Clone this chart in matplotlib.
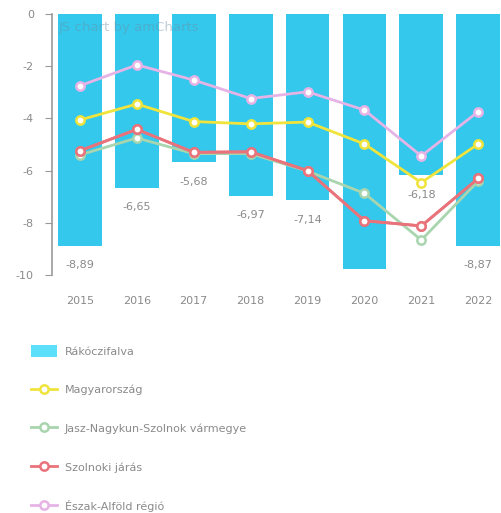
import matplotlib
matplotlib.use("Agg")
import matplotlib.pyplot as plt
from matplotlib.lines import Line2D
from matplotlib.patches import Patch

years = ["2015", "2016", "2017", "2018", "2019", "2020", "2021", "2022"]
rakoczifalva = [-8.89, -6.65, -5.68, -6.97, -7.14, -9.77, -6.18, -8.87]
bar_labels = ["-8,89", "-6,65", "-5,68", "-6,97", "-7,14", None, "-6,18", "-8,87"]
magyarorszag = [-4.06, -3.45, -4.12, -4.21, -4.14, -4.98, -6.46, -4.98]
jnsz = [-5.40, -4.75, -5.35, -5.35, -6.02, -6.87, -8.66, -6.40]
szolnoki = [-5.24, -4.42, -5.30, -5.28, -6.00, -7.92, -8.12, -6.30]
eszak_alfold = [-2.75, -1.95, -2.53, -3.24, -2.98, -3.68, -5.44, -3.74]
y_ticks = [0, -2, -4, -6, -8, -10]

bar_color = "#33C8EC"
series = [
    ("Magyarország", magyarorszag, "#F0E43C"),
    ("Jasz-Nagykun-Szolnok vármegye", jnsz, "#A9D5AE"),
    ("Szolnoki járás", szolnoki, "#E8737B"),
    ("Észak-Alföld régió", eszak_alfold, "#E6B3E6"),
]
text_color = "#8A8A8A"

fig = plt.figure(figsize=(5.01, 5.13), dpi=100)
ax = fig.add_axes([52 / 501, 1 - 275 / 513, 1 - 52 / 501, (275 - 14) / 513])

x = list(range(len(years)))
ax.bar(x, rakoczifalva, width=0.77, color=bar_color, zorder=1)

for i, lab in enumerate(bar_labels):
    if lab:
        ax.annotate(lab, (x[i], rakoczifalva[i]), xytext=(0, -14), textcoords="offset points",
                    ha="center", va="center", fontsize=8, color=text_color)

z = 2
for name, vals, col in series:
    ax.plot(x, vals, color=col, lw=2.0, marker="o", markersize=6,
            markerfacecolor="white", markeredgecolor=col, markeredgewidth=1.8, zorder=z)
    z += 1
# red drawn above green
ax.plot(x, szolnoki, color="#E8737B", lw=2.0, marker="o", markersize=6,
        markerfacecolor="white", markeredgecolor="#E8737B", markeredgewidth=1.8, zorder=4)

ax.set_xlim(-0.49, 7.40)
ax.set_ylim(-10, 0)
ax.set_yticks(y_ticks)
ax.set_yticklabels([str(t) for t in y_ticks])
ax.set_xticks(x)
ax.set_xticklabels(years)
for s in ["top", "right", "bottom"]:
    ax.spines[s].set_visible(False)
ax.spines["left"].set_color("#999999")
ax.spines["left"].set_linewidth(1.2)
ax.tick_params(axis="y", colors="#999999", labelcolor=text_color, labelsize=8, length=5, pad=8)
ax.tick_params(axis="x", length=0, labelcolor=text_color, labelsize=8, pad=15)

ax.text(0.015, 0.975, "JS chart by amCharts", transform=ax.transAxes, fontsize=9.5,
        color="#6f8fa8", alpha=0.45, va="top", ha="left", zorder=10)

handles = [Patch(facecolor="#5CE0F9", edgecolor="none")]
labels = ["Rákóczifalva"]
for name, vals, col in series:
    handles.append(Line2D([0], [0], color=col, lw=2.0, marker="o", markersize=6,
                          markerfacecolor="white", markeredgecolor=col, markeredgewidth=1.8))
    labels.append(name)
fig.legend(handles, labels, loc="upper left", bbox_to_anchor=(31 / 501, 1 - 345 / 513),
           frameon=False, fontsize=8, labelcolor=text_color, labelspacing=2.43,
           handlelength=2.35, handleheight=1.25, handletextpad=0.7, borderaxespad=0, borderpad=0)

fig.savefig("out.png", dpi=100)
